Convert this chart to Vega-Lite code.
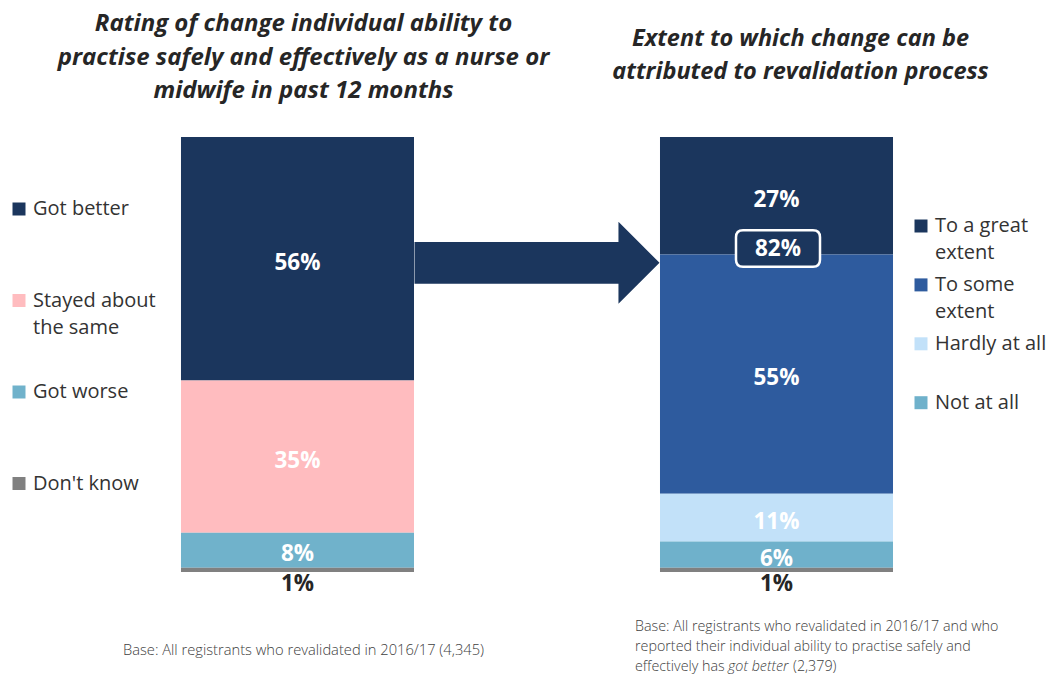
{
  "$schema": "https://vega.github.io/schema/vega-lite/v6.json",
  "width": 1050,
  "height": 679,
  "autosize": {"type": "fit", "contains": "padding"},
  "padding": 0,
  "background": "#ffffff",
  "config": {"view": {"stroke": null}, "font": "Open Sans"},
  "datasets": {
    "bars": [
      {"panel": "Rating", "category": "Got better", "value": 56, "order": 4},
      {"panel": "Rating", "category": "Stayed about the same", "value": 35, "order": 3},
      {"panel": "Rating", "category": "Got worse", "value": 8, "order": 2},
      {"panel": "Rating", "category": "Don't know", "value": 1, "order": 1},
      {"panel": "Extent", "category": "To a great extent", "value": 27, "order": 5},
      {"panel": "Extent", "category": "To some extent", "value": 55, "order": 4},
      {"panel": "Extent", "category": "Hardly at all", "value": 11, "order": 3},
      {"panel": "Extent", "category": "Not at all", "value": 6, "order": 2},
      {"panel": "Extent", "category": "Don't know", "value": 1, "order": 1}
    ],
    "titles": [
      {"panel": "Rating", "lines": ["Rating of change individual ability to", "practise safely and effectively as a nurse or", "midwife in past 12 months"]},
      {"panel": "Extent", "lines": ["Extent to which change can be", "attributed to revalidation process"]}
    ],
    "notes": [
      {"panel": "Rating", "part": "base", "lines": ["Base: All registrants who revalidated in 2016/17 (4,345)"]},
      {"panel": "Extent", "part": "base", "lines": ["Base: All registrants who revalidated in 2016/17 and who", "reported their individual ability to practise safely and"]},
      {"panel": "Extent", "part": "lead", "lines": ["effectively has"]},
      {"panel": "Extent", "part": "em", "lines": ["got better"]},
      {"panel": "Extent", "part": "tail", "lines": ["(2,379)"]}
    ]
  },
  "resolve": {"scale": {"color": "independent"}, "legend": {"color": "independent"}},
  "layer": [
    {
      "data": {"name": "bars"},
      "transform": [
        {"stack": "value", "groupby": ["panel"], "sort": [{"field": "order", "order": "ascending"}], "as": ["y0", "y1"]},
        {"calculate": "(datum.y0 + datum.y1) / 2", "as": "mid"},
        {"calculate": "datum.value + '%'", "as": "label"}
      ],
      "resolve": {"scale": {"color": "independent"}, "legend": {"color": "independent"}},
      "layer": [
        {
          "transform": [{"filter": "datum.panel == 'Rating'"}],
          "mark": {"type": "bar"},
          "encoding": {
            "x": {"field": "panel", "type": "nominal", "axis": null, "scale": {"type": "band", "domain": ["Rating", "Arrow", "Extent"], "paddingInner": 0.0271, "paddingOuter": 0.7056, "align": 0.5355}},
            "y": {"field": "y0", "type": "quantitative", "axis": null, "scale": {"domain": [-24.6, 131.5], "nice": false, "zero": false}},
            "y2": {"field": "y1"},
            "color": {
              "field": "category", "type": "nominal",
              "scale": {"domain": ["Got better", "Stayed about the same", "Got worse", "Don't know"], "range": ["#1b365d", "#ffbcbf", "#70b2cb", "#808080"]},
              "legend": {
                "orient": "none", "legendX": 9, "legendY": 199, "padding": 0,
                "title": null, "direction": "vertical", "columns": 1, "gridAlign": "all",
                "symbolType": "square", "symbolSize": 169, "symbolStrokeWidth": 0,
                "labelFont": "Open Sans", "labelFontSize": 20, "labelColor": "#333333", "labelOffset": 4, "labelLimit": 0,
                "rowPadding": 44.5,
                "labelExpr": "datum.label == 'Stayed about the same' ? ['Stayed about', 'the same'] : datum.label",
                "encode": {"labels": {"update": {"baseline": {"value": "top"}, "dy": {"value": -10}, "lineHeight": {"value": 27}}}}
              }
            }
          }
        },
        {
          "transform": [{"filter": "datum.panel == 'Extent'"}],
          "mark": {"type": "bar"},
          "encoding": {
            "x": {"field": "panel", "type": "nominal", "axis": null, "scale": {"type": "band", "domain": ["Rating", "Arrow", "Extent"], "paddingInner": 0.0271, "paddingOuter": 0.7056, "align": 0.5355}},
            "y": {"field": "y0", "type": "quantitative", "axis": null, "scale": {"domain": [-24.6, 131.5], "nice": false, "zero": false}},
            "y2": {"field": "y1"},
            "color": {
              "field": "category", "type": "nominal",
              "scale": {"domain": ["To a great extent", "To some extent", "Hardly at all", "Not at all", "Don't know"], "range": ["#1b365d", "#2e5b9e", "#c2e1f9", "#6fb1cb", "#808080"]},
              "legend": {
                "orient": "none", "legendX": 911, "legendY": 216, "padding": 0,
                "title": null, "direction": "vertical", "columns": 1, "gridAlign": "all",
                "values": ["To a great extent", "To some extent", "Hardly at all", "Not at all"],
                "symbolType": "square", "symbolSize": 169, "symbolStrokeWidth": 0,
                "labelFont": "Open Sans", "labelFontSize": 20, "labelColor": "#333333", "labelOffset": 4, "labelLimit": 0,
                "rowPadding": 11.9,
                "labelExpr": "datum.label == 'To a great extent' ? ['To a great', 'extent'] : datum.label == 'To some extent' ? ['To some', 'extent'] : datum.label",
                "encode": {
                  "labels": {"update": {"baseline": {"value": "top"}, "dy": {"value": -10}, "lineHeight": {"value": 27}}},
                  "symbols": {"update": {"fill": {"signal": "datum.value == 'To a great extent' ? '#002060' : datum.value == 'To some extent' ? '#2f5597' : datum.value == 'Hardly at all' ? '#c5e0f8' : '#3f8fab'"}}}
                }
              }
            }
          }
        },
        {
          "transform": [{"filter": "datum.value >= 5"}],
          "mark": {"type": "text", "font": "Open Sans", "fontSize": 22.5, "fontWeight": "bold", "fill": "#ffffff", "baseline": "middle", "align": "center", "dy": 4},
          "encoding": {
            "x": {"field": "panel", "type": "nominal", "axis": null, "scale": {"type": "band", "domain": ["Rating", "Arrow", "Extent"], "paddingInner": 0.0271, "paddingOuter": 0.7056, "align": 0.5355}},
            "y": {"field": "mid", "type": "quantitative", "axis": null, "scale": {"domain": [-24.6, 131.5], "nice": false, "zero": false}},
            "text": {"field": "label"}
          }
        },
        {
          "transform": [{"filter": "datum.category == \"Don't know\""}],
          "mark": {"type": "text", "font": "Open Sans", "fontSize": 22.5, "fontWeight": "bold", "fill": "#262626", "baseline": "middle", "align": "center", "dy": 12},
          "encoding": {
            "x": {"field": "panel", "type": "nominal", "axis": null, "scale": {"type": "band", "domain": ["Rating", "Arrow", "Extent"], "paddingInner": 0.0271, "paddingOuter": 0.7056, "align": 0.5355}},
            "y": {"field": "y0", "type": "quantitative", "axis": null, "scale": {"domain": [-24.6, 131.5], "nice": false, "zero": false}},
            "text": {"field": "label"}
          }
        },
        {
          "transform": [{"filter": "datum.panel == 'Rating' && datum.category == 'Got better'"}],
          "mark": {"type": "point", "filled": true, "fill": "#1b365d", "strokeWidth": 0, "opacity": 1, "size": 60025, "yOffset": 4,
            "shape": "M-1,-0.17L0.665,-0.17L0.665,-0.335L1,0L0.665,0.335L0.665,0.17L-1,0.17Z"},
          "encoding": {
            "x": {"datum": "Arrow", "type": "nominal", "axis": null, "scale": {"type": "band", "domain": ["Rating", "Arrow", "Extent"], "paddingInner": 0.0271, "paddingOuter": 0.7056, "align": 0.5355}},
            "y": {"field": "mid", "type": "quantitative", "axis": null, "scale": {"domain": [-24.6, 131.5], "nice": false, "zero": false}}
          }
        },
        {
          "transform": [
            {"filter": "datum.panel == 'Extent' && (datum.category == 'To a great extent' || datum.category == 'To some extent')"},
            {"joinaggregate": [{"op": "sum", "field": "value", "as": "net"}]},
            {"filter": "datum.category == 'To a great extent'"},
            {"calculate": "datum.net + '%'", "as": "netLabel"}
          ],
          "layer": [
            {
              "mark": {"type": "point", "filled": true, "fill": "#1b365d", "stroke": "#ffffff", "strokeWidth": 2.5, "opacity": 1, "size": 7056, "yOffset": -6, "xOffset": 1.5,
                "shape": "M-0.833,-0.4345L0.833,-0.4345Q1,-0.4345 1,-0.268L1,0.268Q1,0.4345 0.833,0.4345L-0.833,0.4345Q-1,0.4345 -1,0.268L-1,-0.268Q-1,-0.4345 -0.833,-0.4345Z"},
              "encoding": {
                "x": {"field": "panel", "type": "nominal", "axis": null, "scale": {"type": "band", "domain": ["Rating", "Arrow", "Extent"], "paddingInner": 0.0271, "paddingOuter": 0.7056, "align": 0.5355}},
                "y": {"field": "y0", "type": "quantitative", "axis": null, "scale": {"domain": [-24.6, 131.5], "nice": false, "zero": false}}
              }
            },
            {
              "mark": {"type": "text", "font": "Open Sans", "fontSize": 22.5, "fontWeight": "bold", "fill": "#ffffff", "baseline": "middle", "align": "center", "dy": -5, "dx": 1.5},
              "encoding": {
                "x": {"field": "panel", "type": "nominal", "axis": null, "scale": {"type": "band", "domain": ["Rating", "Arrow", "Extent"], "paddingInner": 0.0271, "paddingOuter": 0.7056, "align": 0.5355}},
                "y": {"field": "y0", "type": "quantitative", "axis": null, "scale": {"domain": [-24.6, 131.5], "nice": false, "zero": false}},
                "text": {"field": "netLabel"}
              }
            }
          ]
        }
      ]
    },
    {
      "data": {"name": "titles"},
      "transform": [{"filter": "datum.panel == 'Rating'"}],
      "mark": {"type": "text", "font": "Open Sans", "fontSize": 24, "fontWeight": "bold", "fontStyle": "italic", "fill": "#262626", "align": "center", "baseline": "alphabetic", "lineHeight": 33.5, "dx": 6, "dy": -106},
      "encoding": {
        "x": {"field": "panel", "type": "nominal", "axis": null, "scale": {"type": "band", "domain": ["Rating", "Arrow", "Extent"], "paddingInner": 0.0271, "paddingOuter": 0.7056, "align": 0.5355}},
        "y": {"datum": 100, "type": "quantitative", "axis": null, "scale": {"domain": [-24.6, 131.5], "nice": false, "zero": false}},
        "text": {"field": "lines"}
      }
    },
    {
      "data": {"name": "titles"},
      "transform": [{"filter": "datum.panel == 'Extent'"}],
      "mark": {"type": "text", "font": "Open Sans", "fontSize": 23.5, "fontWeight": "bold", "fontStyle": "italic", "fill": "#262626", "align": "center", "baseline": "alphabetic", "lineHeight": 33, "dx": 24, "dy": -91},
      "encoding": {
        "x": {"field": "panel", "type": "nominal", "axis": null, "scale": {"type": "band", "domain": ["Rating", "Arrow", "Extent"], "paddingInner": 0.0271, "paddingOuter": 0.7056, "align": 0.5355}},
        "y": {"datum": 100, "type": "quantitative", "axis": null, "scale": {"domain": [-24.6, 131.5], "nice": false, "zero": false}},
        "text": {"field": "lines"}
      }
    },
    {
      "data": {"name": "notes"},
      "transform": [{"filter": "datum.panel == 'Rating'"}],
      "mark": {"type": "text", "font": "Open Sans", "fontSize": 14.7, "fontWeight": 300, "fill": "#404040", "align": "left", "baseline": "middle", "dx": -58, "dy": 79},
      "encoding": {
        "x": {"field": "panel", "type": "nominal", "bandPosition": 0, "axis": null, "scale": {"type": "band", "domain": ["Rating", "Arrow", "Extent"], "paddingInner": 0.0271, "paddingOuter": 0.7056, "align": 0.5355}},
        "y": {"datum": 0, "type": "quantitative", "axis": null, "scale": {"domain": [-24.6, 131.5], "nice": false, "zero": false}},
        "text": {"field": "lines"}
      }
    },
    {
      "data": {"name": "notes"},
      "transform": [{"filter": "datum.panel == 'Extent' && datum.part == 'base'"}],
      "mark": {"type": "text", "font": "Open Sans", "fontSize": 14.3, "fontWeight": 300, "fill": "#404040", "align": "left", "baseline": "middle", "lineHeight": 20, "dx": -25, "dy": 55},
      "encoding": {
        "x": {"field": "panel", "type": "nominal", "bandPosition": 0, "axis": null, "scale": {"type": "band", "domain": ["Rating", "Arrow", "Extent"], "paddingInner": 0.0271, "paddingOuter": 0.7056, "align": 0.5355}},
        "y": {"datum": 0, "type": "quantitative", "axis": null, "scale": {"domain": [-24.6, 131.5], "nice": false, "zero": false}},
        "text": {"field": "lines"}
      }
    },
    {
      "data": {"name": "notes"},
      "transform": [{"filter": "datum.panel == 'Extent' && datum.part == 'lead'"}],
      "mark": {"type": "text", "font": "Open Sans", "fontSize": 14.3, "fontWeight": 300, "fill": "#404040", "align": "left", "baseline": "middle", "dx": -25, "dy": 95},
      "encoding": {
        "x": {"field": "panel", "type": "nominal", "bandPosition": 0, "axis": null, "scale": {"type": "band", "domain": ["Rating", "Arrow", "Extent"], "paddingInner": 0.0271, "paddingOuter": 0.7056, "align": 0.5355}},
        "y": {"datum": 0, "type": "quantitative", "axis": null, "scale": {"domain": [-24.6, 131.5], "nice": false, "zero": false}},
        "text": {"field": "lines"}
      }
    },
    {
      "data": {"name": "notes"},
      "transform": [{"filter": "datum.panel == 'Extent' && datum.part == 'em'"}],
      "mark": {"type": "text", "font": "Open Sans", "fontSize": 14.3, "fontWeight": 300, "fontStyle": "italic", "fill": "#404040", "align": "left", "baseline": "middle", "dx": 68, "dy": 95},
      "encoding": {
        "x": {"field": "panel", "type": "nominal", "bandPosition": 0, "axis": null, "scale": {"type": "band", "domain": ["Rating", "Arrow", "Extent"], "paddingInner": 0.0271, "paddingOuter": 0.7056, "align": 0.5355}},
        "y": {"datum": 0, "type": "quantitative", "axis": null, "scale": {"domain": [-24.6, 131.5], "nice": false, "zero": false}},
        "text": {"field": "lines"}
      }
    },
    {
      "data": {"name": "notes"},
      "transform": [{"filter": "datum.panel == 'Extent' && datum.part == 'tail'"}],
      "mark": {"type": "text", "font": "Open Sans", "fontSize": 14.3, "fontWeight": 300, "fill": "#404040", "align": "left", "baseline": "middle", "dx": 133, "dy": 95},
      "encoding": {
        "x": {"field": "panel", "type": "nominal", "bandPosition": 0, "axis": null, "scale": {"type": "band", "domain": ["Rating", "Arrow", "Extent"], "paddingInner": 0.0271, "paddingOuter": 0.7056, "align": 0.5355}},
        "y": {"datum": 0, "type": "quantitative", "axis": null, "scale": {"domain": [-24.6, 131.5], "nice": false, "zero": false}},
        "text": {"field": "lines"}
      }
    }
  ]
}
